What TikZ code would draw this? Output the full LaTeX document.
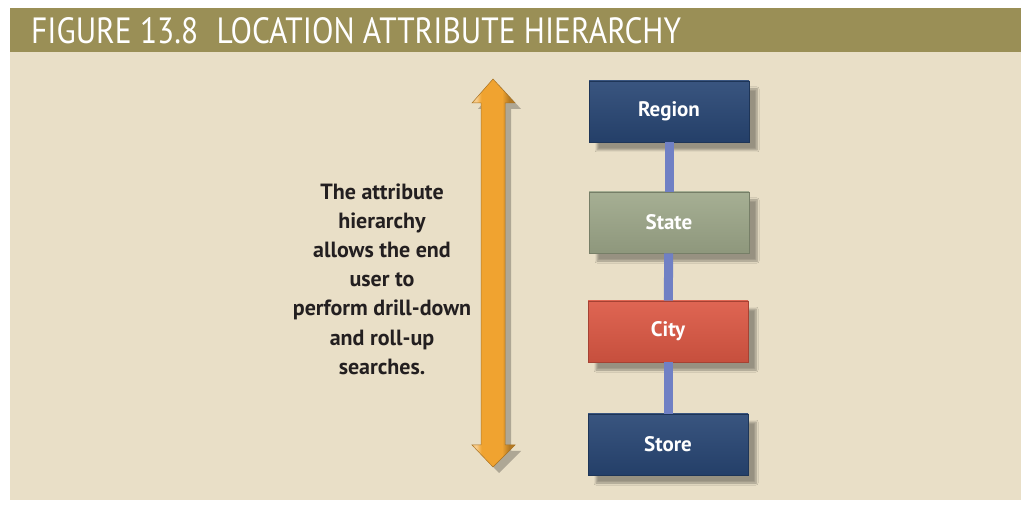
\documentclass[tikz,border=0pt]{standalone}
\usepackage{fontspec}
\setmainfont{PT Sans}
\newfontfamily\titlefont[FakeStretch=0.86]{PT Sans}
\usetikzlibrary{shadows.blur}
\definecolor{figolive}{RGB}{154,143,86}
\definecolor{figbeige}{RGB}{233,223,199}
\definecolor{fignavy}{RGB}{40,70,116}
\definecolor{figsage}{RGB}{158,168,138}
\definecolor{figred}{RGB}{220,88,68}
\definecolor{figlink}{RGB}{112,128,196}
\definecolor{figorange}{RGB}{240,163,48}
\definecolor{figtext}{RGB}{35,31,32}
\pgfdeclarehorizontalshading{arrowshade}{100bp}{color(0bp)=(figorange);
  color(30bp)=(figorange!55!white); color(36bp)=(figorange); color(60bp)=(figorange);
  color(68bp)=(figorange!75!black); color(100bp)=(figorange!75!black)}
\tikzset{
  levelbox/.style={minimum width=160, minimum height=61, inner sep=0pt,
    draw=#1!75!black, line width=0.8pt, top color=#1!92!white, bottom color=#1!90!black,
    text=white, font=\fontsize{21}{25}\selectfont\bfseries,
    blur shadow={shadow xshift=8pt, shadow yshift=-8pt, shadow opacity=35, shadow blur steps=6}},
  levellink/.style={draw=figlink, line width=9pt}
}
\begin{document}
\begin{tikzpicture}[x=1pt, y=-1pt]
  \useasboundingbox (0,0) rectangle (1021,510);

  % Frame
  \fill[figbeige] (10,52) rectangle (1021,500);
  \fill[figolive] (10,8) rectangle (1021,52);
  \node[anchor=west, text=white, font=\titlefont\fontsize{36.5}{36.5}\selectfont, inner sep=0pt] (title) at (31,31) {FIGURE 13.8\hspace{10pt} LOCATION ATTRIBUTE HIERARCHY};

  % Drill-down / roll-up arrow
  \fill[black, opacity=0.25] (499,85) -- (521,109) -- (511,109) -- (511,451) -- (521,451) -- (499,473) -- (478,451) -- (487,451) -- (487,109) -- (478,109) -- cycle;
  \shade[shading=arrowshade, draw=figorange!70!black, line width=0.5pt]
    (493,79) -- (515,103) -- (505,103) -- (505,445) -- (515,445) -- (493,467) -- (472,445) -- (481,445) -- (481,103) -- (472,103) -- cycle;

  \node[align=center, text=figtext, font=\fontsize{22}{29.2}\selectfont\bfseries] (note) at (382,279)
    {The attribute\\hierarchy\\allows the end\\user to\\perform drill-down\\and roll-up\\searches.};

  % Levels
  \node[levelbox=fignavy] (region) at (669,111.5) {Region};
  \node[levelbox=figsage] (state) at (669,222.5) {State};
  \node[levelbox=figred] (city) at (668,331.5) {City};
  \node[levelbox=fignavy] (store) at (668,444.5) {Store};

  \draw[levellink] (region) -- (state);
  \draw[levellink] (state) -- (city);
  \draw[levellink] (city) -- (store);
\end{tikzpicture}
\end{document}
